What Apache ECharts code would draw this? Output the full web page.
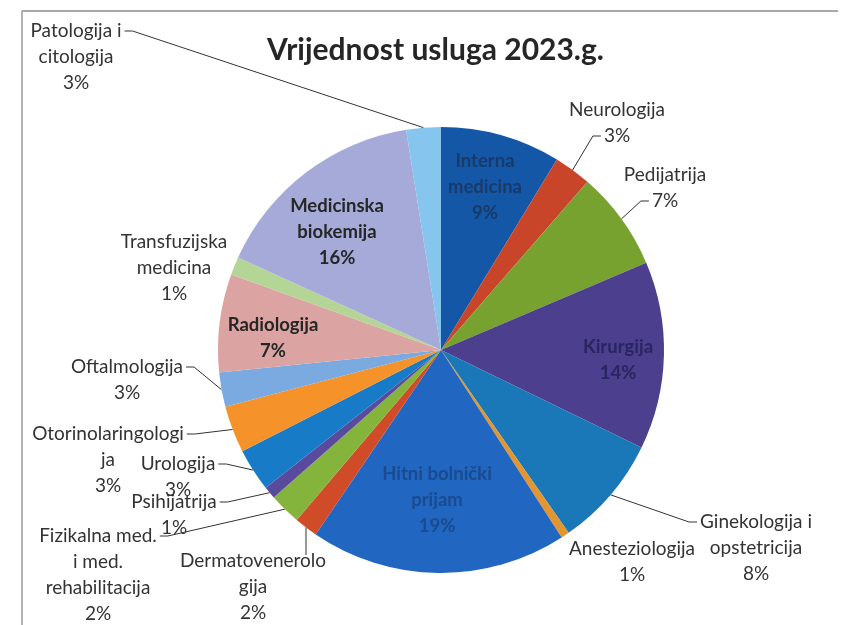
<!DOCTYPE html>
<html>
<head>
<meta charset="utf-8">
<script src="https://cdn.jsdelivr.net/npm/echarts@6/dist/echarts.min.js"></script>
<style>
  html, body { margin: 0; padding: 0; background: #fff; }
  #chart { width: 841px; height: 625px; }
</style>
</head>
<body>
<div id="chart"></div>
<script>
// odjeli, redom u smjeru kazaljke od 12 sati
const categories = [
  'Interna\nmedicina', 'Neurologija', 'Pedijatrija', 'Kirurgija',
  'Ginekologija i\nopstetricija', 'Anesteziologija', 'Hitni bolnički\nprijam',
  'Dermatovenerolo\ngija', 'Fizikalna med.\ni med.\nrehabilitacija', 'Psihijatrija',
  'Urologija', 'Otorinolaringologi\nja', 'Oftalmologija', 'Radiologija',
  'Transfuzijska\nmedicina', 'Medicinska\nbiokemija', 'Patologija i\ncitologija'
]
// udio u %
const shares = [8.7, 2.7, 7.2, 13.6, 8.1, 0.6, 18.6, 1.7, 2.3, 0.9, 3.1, 3.4, 2.5, 7.1, 1.3, 15.7, 2.5]
const colors = [
  '#1357a6', '#c8452a', '#78a22f', '#4b3f8e', '#1a78b8', '#e39530', '#2166c0',
  '#d04b28', '#85b43c', '#5a4a9e', '#177bc8', '#f5922a', '#7aaae0', '#dca3a3',
  '#b5d597', '#a6aad8', '#86c5ee'
]

// raspored teksta: sredina bloka i gdje se kaci linija
// 'in' = unutar kriske, 'first'/'last' = redak s linijom, 'none' = bez linije, 'pin' = linija na zadanu tocku
const labelPos = [
  [485, 187], [617, 123], [665, 188], [618, 360], [756, 548], [632, 562], [437, 500],
  [253, 587], [98, 575], [174, 515], [178, 477], [108, 460], [127, 380], [273, 338],
  [174, 268], [337, 232], [76, 57]
]
const attach = [
  'in', 'last', 'last', 'in', 'first', 'none', 'in',
  'pin', 'first', 'first', 'first', 'first', 'first', 'in',
  'none', 'in', 'first'
]
const pinPos = { 7: [306, 556] }
const insideColor = { 0: '#1a3a6a', 3: '#2a2560', 6: '#1a4a8f', 13: '#262626', 15: '#262626' }
const LH = 26

function lines(p) {
  return (p.name + '\n' + Math.round(p.value) + '%').split('\n')
}

let chart = echarts.init(document.getElementById('chart'))

const baseLabel = {
  show: true,
  position: 'outside',
  fontFamily: 'Lato',
  fontSize: 19,
  lineHeight: LH,
  color: '#333',
  align: 'center'
}

chart.setOption({
  animation: false,
  title: {
    text: 'Vrijednost usluga 2023.g.',
    left: 262,
    top: 30,
    textStyle: {
      fontFamily: 'Lato',
      fontSize: 30,
      fontWeight: 'bold',
      color: '#262626'
    }
  },
  graphic: [
    { type: 'line', shape: { x1: 22, y1: 11, x2: 838, y2: 11 }, style: { stroke: '#a8a8a8', lineWidth: 2 } },
    { type: 'line', shape: { x1: 22, y1: 11, x2: 22, y2: 625 }, style: { stroke: '#9a9a9a', lineWidth: 1.5 } }
  ],
  series: [
    {
      // kriske + tekst s linijom
      type: 'pie',
      center: [441, 350],
      radius: 223,
      startAngle: 90,
      clockwise: true,
      avoidLabelOverlap: false,
      itemStyle: { borderWidth: 0 },
      label: Object.assign({}, baseLabel, {
        padding: [0, 3],
        formatter: (p) => {
          const a = attach[p.dataIndex]
          const l = lines(p)
          if (a === 'in') return l.join('\n')
          if (a === 'first') return l[0]
          if (a === 'last') return l[l.length - 1]
          return ' '
        }
      }),
      labelLine: {
        show: true,
        length: 8,
        length2: 8,
        lineStyle: { color: '#333', width: 1 }
      },
      labelLayout: (params) => {
        const i = params.dataIndex
        const a = attach[i]
        const pos = labelPos[i]
        const n = categories[i].split('\n').length + 1
        let y = pos[1]
        if (a === 'first') y = pos[1] - (n - 1) / 2 * LH
        if (a === 'last') y = pos[1] + (n - 1) / 2 * LH
        if (a === 'pin') return { x: pinPos[i][0], y: pinPos[i][1], align: 'center', verticalAlign: 'middle' }
        return { x: pos[0], y: y, align: 'center', verticalAlign: 'middle' }
      },
      emphasis: { disabled: true },
      data: categories.map((name, i) => {
        const item = { name: name, value: shares[i], itemStyle: { color: colors[i] } }
        const a = attach[i]
        if (a === 'in') {
          item.label = { fontWeight: 'bold', fontSize: 18.5, color: insideColor[i], padding: 0 }
          item.labelLine = { show: false }
        } else if (a === 'none') {
          item.label = { show: false }
          item.labelLine = { show: false }
        } else if (a === 'pin') {
          item.label = { fontSize: 2, lineHeight: 2, padding: 0 }
          item.labelLine = { length2: 0 }
        }
        return item
      })
    },
    {
      // ostatak teksta bez linije
      type: 'pie',
      center: [441, 350],
      radius: 223,
      startAngle: 90,
      clockwise: true,
      silent: true,
      avoidLabelOverlap: false,
      itemStyle: { color: 'rgba(0,0,0,0)', borderWidth: 0 },
      label: Object.assign({}, baseLabel, {
        formatter: (p) => {
          const a = attach[p.dataIndex]
          const l = lines(p)
          if (a === 'first') return l.slice(1).join('\n')
          if (a === 'last') return l.slice(0, -1).join('\n')
          if (a === 'none' || a === 'pin') return l.join('\n')
          return ''
        }
      }),
      labelLine: { show: false },
      labelLayout: (params) => {
        const i = params.dataIndex
        const a = attach[i]
        const pos = labelPos[i]
        let y = pos[1]
        if (a === 'first') y = pos[1] + LH / 2
        if (a === 'last') y = pos[1] - LH / 2
        return { x: pos[0], y: y, align: 'center', verticalAlign: 'middle' }
      },
      emphasis: { disabled: true },
      data: categories.map((name, i) => ({ name: name, value: shares[i] }))
    }
  ]
})
</script>
</body>
</html>
